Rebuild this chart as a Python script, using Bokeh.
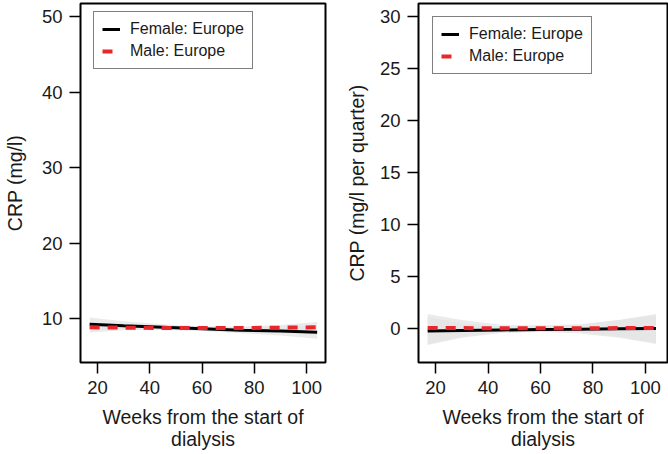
from bokeh.plotting import figure
from bokeh.layouts import row
from bokeh.models import Legend, LegendItem, FixedTicker
from bokeh.embed import file_html
from bokeh.resources import INLINE

weeks = [17, 30, 45, 60, 75, 90, 104]

# Left panel: CRP (mg/l)
crp_female = [9.3, 9.1, 8.9, 8.7, 8.5, 8.4, 8.25]
crp_female_lo = [8.6, 8.6, 8.5, 8.4, 8.1, 7.8, 7.4]
crp_female_hi = [10.2, 9.7, 9.3, 9.0, 8.9, 9.0, 9.1]
crp_male = [8.9, 8.85, 8.8, 8.8, 8.8, 8.85, 8.9]
crp_male_lo = [8.2, 8.5, 8.6, 8.6, 8.6, 8.5, 8.2]
crp_male_hi = [9.6, 9.2, 9.0, 9.0, 9.0, 9.2, 9.6]

# Right panel: CRP slope (mg/l per quarter)
slope_female = [-0.25, -0.2, -0.15, -0.1, -0.07, -0.03, 0.0]
slope_female_lo = [-1.6, -0.9, -0.45, -0.35, -0.5, -0.9, -1.5]
slope_female_hi = [1.1, 0.5, 0.15, 0.15, 0.35, 0.8, 1.4]
slope_male = [0.05, 0.03, 0.02, 0.02, 0.02, 0.03, 0.05]
slope_male_lo = [-1.5, -0.8, -0.3, -0.25, -0.35, -0.8, -1.4]
slope_male_hi = [1.4, 0.8, 0.35, 0.3, 0.4, 0.8, 1.3]

x_ticks = [20, 40, 60, 80, 100]
left_y_ticks = [10, 20, 30, 40, 50]
right_y_ticks = [0, 5, 10, 15, 20, 25, 30]

FONT = "Liberation Sans"
TXT = "#1a1a1a"
RED = "#e8262b"
BAND = "#e4e4e4"


def make_panel(x_range, y_range, yticks, ylabel, border_left, border_right,
               ylabel_standoff, f, flo, fhi, m, mlo, mhi, legend_loc):
    p = figure(width=334, height=454, x_range=x_range, y_range=y_range,
               output_backend="svg", toolbar_location=None,
               min_border_left=border_left, min_border_right=border_right,
               min_border_top=3, min_border_bottom=92)
    p.grid.visible = False
    p.outline_line_color = "black"
    p.outline_line_width = 2
    p.background_fill_color = "white"
    p.border_fill_color = "white"

    p.varea(x=weeks, y1=flo, y2=fhi, fill_color=BAND, fill_alpha=0.75)
    p.varea(x=weeks, y1=mlo, y2=mhi, fill_color=BAND, fill_alpha=0.75)
    rf = p.line(weeks, f, line_color="black", line_width=3)
    rm = p.line(weeks, m, line_color=RED, line_width=4, line_dash="10 8")

    p.xaxis.ticker = FixedTicker(ticks=x_ticks)
    p.yaxis.ticker = FixedTicker(ticks=yticks)
    for ax in (p.xaxis[0], p.yaxis[0]):
        ax.axis_line_color = None
        ax.minor_tick_line_color = None
        ax.major_tick_in = 0
        ax.major_tick_out = 11
        ax.major_tick_line_width = 1.5
        ax.major_tick_line_color = "black"
        ax.major_label_text_font = FONT
        ax.major_label_text_font_size = "18.5px"
        ax.major_label_text_color = TXT
        ax.axis_label_text_font = FONT
        ax.axis_label_text_font_size = "19.5px"
        ax.axis_label_text_font_style = "normal"
        ax.axis_label_text_color = TXT
    p.xaxis.axis_label = "Weeks from the start of\ndialysis"
    p.xaxis.axis_label_text_line_height = 1.02
    p.xaxis.major_label_standoff = 7
    p.xaxis.axis_label_standoff = 9
    p.yaxis.axis_label = ylabel
    p.yaxis.major_label_standoff = 7
    p.yaxis.axis_label_standoff = ylabel_standoff

    legend = Legend(items=[LegendItem(label="Female: Europe", renderers=[rf]),
                           LegendItem(label="Male: Europe", renderers=[rm])],
                    location=legend_loc, margin=0, padding=8, spacing=4,
                    glyph_width=18, glyph_height=18, label_height=18,
                    label_standoff=10, label_text_font=FONT,
                    label_text_font_size="16px", label_text_color=TXT,
                    border_line_color="black", border_line_width=1.5,
                    background_fill_color="white", background_fill_alpha=1)
    p.add_layout(legend)
    return p


p1 = make_panel((13.5, 107.2), (4.24, 51.76), left_y_ticks, "CRP (mg/l)", 79, 9, 13,
                crp_female, crp_female_lo, crp_female_hi,
                crp_male, crp_male_lo, crp_male_hi, (13, 293))
p2 = make_panel((13.5, 108.4), (-3.28, 31.28), right_y_ticks,
                "CRP (mg/l per quarter)", 84, 1, 9,
                slope_female, slope_female_lo, slope_female_hi,
                slope_male, slope_male_lo, slope_male_hi, (14, 288))

layout = row(p1, p2)

open("out.html", "w").write(file_html(layout, INLINE))
